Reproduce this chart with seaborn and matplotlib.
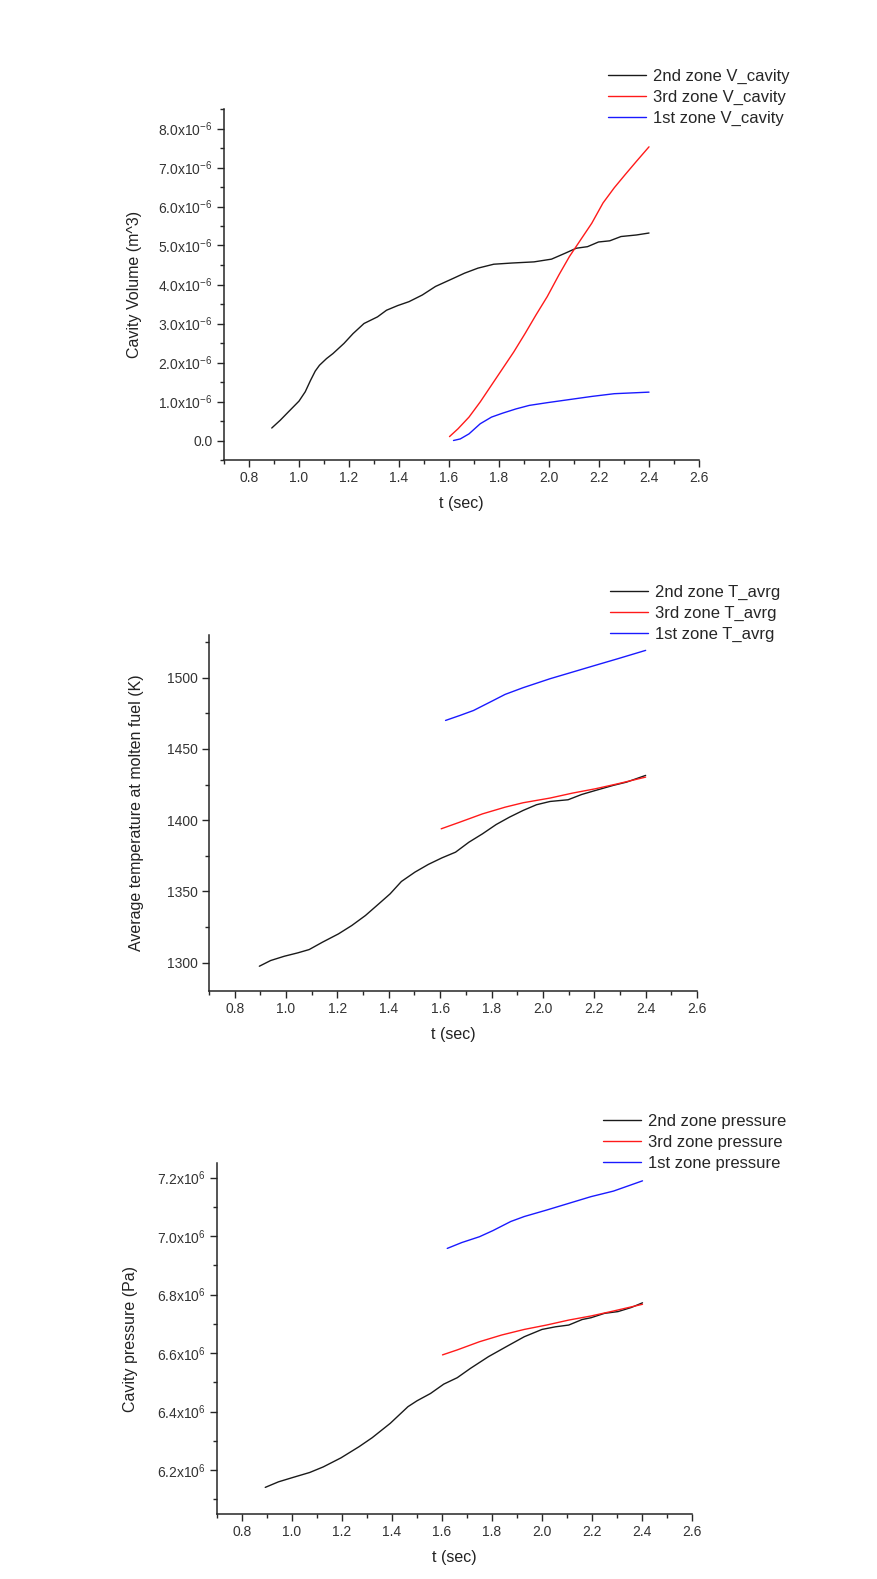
import pandas as pd
import numpy as np
import matplotlib
matplotlib.use('Agg')
import matplotlib.pyplot as plt
from matplotlib.ticker import MultipleLocator, FuncFormatter
import seaborn as sns

sns.set_style('ticks')
plt.rcParams['font.family'] = ['Liberation Sans', 'DejaVu Sans']
plt.rcParams['mathtext.fontset'] = 'custom'
plt.rcParams['mathtext.rm'] = 'Liberation Sans'
plt.rcParams['mathtext.default'] = 'regular'

# cavity volume (m^3)
t_v2 = [0.891, 0.925, 0.957, 1.0, 1.025, 1.046, 1.065, 1.082, 1.11, 1.136, 1.18, 1.216, 1.26, 1.314,
        1.35, 1.395, 1.44, 1.493, 1.546, 1.618, 1.662, 1.716, 1.779, 1.85, 1.94, 2.01, 2.064, 2.109,
        2.154, 2.198, 2.243, 2.288, 2.35, 2.4]
v2 = [0.32, 0.52, 0.73, 1.01, 1.25, 1.54, 1.78, 1.93, 2.10, 2.23, 2.49, 2.74, 3.0, 3.17,
      3.34, 3.46, 3.56, 3.73, 3.95, 4.16, 4.29, 4.42, 4.52, 4.55, 4.58, 4.65, 4.80, 4.93,
      4.97, 5.09, 5.12, 5.23, 5.27, 5.32]
t_v3 = [1.602, 1.636, 1.68, 1.725, 1.77, 1.814, 1.859, 1.904, 1.948, 1.993, 2.04, 2.082, 2.127,
        2.171, 2.216, 2.261, 2.305, 2.35, 2.4]
v3 = [0.10, 0.30, 0.60, 0.99, 1.42, 1.84, 2.27, 2.74, 3.22, 3.69, 4.25, 4.72, 5.15,
      5.57, 6.09, 6.48, 6.82, 7.16, 7.53]
t_v1 = [1.618, 1.645, 1.68, 1.725, 1.77, 1.814, 1.868, 1.921, 1.993, 2.082, 2.171, 2.261, 2.4]
v1 = [0.0, 0.04, 0.17, 0.43, 0.60, 0.70, 0.81, 0.90, 0.97, 1.05, 1.13, 1.20, 1.24]

# average temperature (K)
t_T2 = [0.896, 0.94, 0.993, 1.046, 1.09, 1.142, 1.204, 1.256, 1.309, 1.361, 1.405, 1.449, 1.502,
        1.554, 1.607, 1.66, 1.712, 1.765, 1.818, 1.87, 1.923, 1.975, 2.028, 2.098, 2.151, 2.204,
        2.274, 2.326, 2.4]
T2 = [1297.4, 1301.4, 1304.4, 1306.8, 1309.1, 1314.3, 1320.1, 1326.0, 1333.0, 1341.2, 1348.2,
      1356.9, 1363.5, 1368.9, 1373.5, 1377.5, 1384.5, 1390.4, 1396.9, 1402.1, 1406.8, 1410.8,
      1413.1, 1414.3, 1418.0, 1420.8, 1424.4, 1426.7, 1431.4]
t_T3 = [1.604, 1.677, 1.765, 1.853, 1.923, 2.028, 2.116, 2.204, 2.291, 2.4]
T3 = [1393.9, 1398.6, 1404.4, 1409.1, 1412.2, 1415.5, 1419.0, 1422.0, 1425.5, 1430.2]
t_T1 = [1.621, 1.677, 1.73, 1.8, 1.853, 1.923, 2.028, 2.116, 2.204, 2.291, 2.4]
T1 = [1470.0, 1473.5, 1477.0, 1483.4, 1488.3, 1493.0, 1499.3, 1504.0, 1508.7, 1513.3, 1519.2]

# cavity pressure (Pa, x1e6)
t_p2 = [0.893, 0.946, 1.0, 1.071, 1.125, 1.196, 1.268, 1.321, 1.393, 1.464, 1.5, 1.554, 1.607,
        1.661, 1.714, 1.786, 1.857, 1.929, 2.0, 2.054, 2.107, 2.161, 2.196, 2.25, 2.304, 2.357, 2.402]
p2 = [6.141, 6.160, 6.174, 6.192, 6.211, 6.242, 6.280, 6.311, 6.360, 6.417, 6.437, 6.462, 6.494,
      6.516, 6.548, 6.588, 6.622, 6.656, 6.681, 6.690, 6.696, 6.715, 6.721, 6.736, 6.742, 6.756, 6.772]
t_p3 = [1.602, 1.661, 1.75, 1.839, 1.929, 2.018, 2.107, 2.196, 2.286, 2.402]
p3 = [6.594, 6.611, 6.639, 6.662, 6.681, 6.696, 6.713, 6.727, 6.744, 6.767]
t_p1 = [1.621, 1.679, 1.75, 1.804, 1.875, 1.929, 2.018, 2.107, 2.196, 2.286, 2.402]
p1 = [6.958, 6.978, 6.998, 7.019, 7.050, 7.067, 7.089, 7.112, 7.135, 7.154, 7.189]

colors = ['#1a1a1a', '#ff1a1a', '#1a1aff']


def make_df(series, names, scale):
    parts = []
    for (t, y), name in zip(series, names):
        parts.append(pd.DataFrame({'t': t, 'y': np.array(y) * scale, 'zone': name}))
    return pd.concat(parts, ignore_index=True)


def draw(ax, df, names, ylabel, ylim, ymajor, yminor, fmt, legend_xy, ypad):
    sns.lineplot(data=df, x='t', y='y', hue='zone', hue_order=names,
                 palette=colors, estimator=None, sort=False, lw=1.0, ax=ax)
    ax.set_xlim(0.7, 2.6)
    ax.set_ylim(*ylim)
    ax.xaxis.set_major_locator(MultipleLocator(0.2))
    ax.xaxis.set_minor_locator(MultipleLocator(0.1))
    ax.xaxis.set_major_formatter(FuncFormatter(lambda v, p: f'{v:.1f}'))
    ax.yaxis.set_major_locator(MultipleLocator(ymajor))
    ax.yaxis.set_minor_locator(MultipleLocator(yminor))
    ax.yaxis.set_major_formatter(FuncFormatter(fmt))
    ax.tick_params(which='major', direction='out', length=5, width=1, labelsize=10,
                   labelcolor='#333333', pad=3)
    ax.tick_params(which='minor', direction='out', length=3, width=1)
    for s in ['left', 'bottom']:
        ax.spines[s].set_linewidth(1.1)
    sns.despine(ax=ax)
    ax.set_xlabel('t (sec)', fontsize=11.5, labelpad=8, color='#222222')
    ax.set_ylabel(ylabel, fontsize=11.5, labelpad=ypad, color='#222222')
    ax.legend(loc='upper left', bbox_to_anchor=legend_xy, bbox_transform=fig.transFigure,
              frameon=False, fontsize=12, borderpad=0, borderaxespad=0,
              handlelength=2.3, handletextpad=0.4, labelspacing=0.36)


def fmt_v(v, p):
    if abs(v) < 1e-12:
        return '0.0'
    return f'{v * 1e6:.1f}x10$^{{-6}}$'


def fmt_T(v, p):
    return f'{v:.0f}'


def fmt_p(v, p):
    return f'{v / 1e6:.1f}x10$^{{6}}$'


W, H = 878, 1579
fig = plt.figure(figsize=(W / 100, H / 100), dpi=100)


def axes_px(left, top, right, bottom):
    return fig.add_axes([left / W, 1 - bottom / H, (right - left) / W, (bottom - top) / H])


ax1 = axes_px(224, 109, 699, 460)
ax2 = axes_px(209, 635, 697, 991)
ax3 = axes_px(217, 1163, 692, 1514)

names_v = ['2nd zone V_cavity', '3rd zone V_cavity', '1st zone V_cavity']
names_T = ['2nd zone T_avrg', '3rd zone T_avrg', '1st zone T_avrg']
names_p = ['2nd zone pressure', '3rd zone pressure', '1st zone pressure']

df_v = make_df([(t_v2, v2), (t_v3, v3), (t_v1, v1)], names_v, 1e-6)
df_T = make_df([(t_T2, T2), (t_T3, T3), (t_T1, T1)], names_T, 1.0)
df_p = make_df([(t_p2, p2), (t_p3, p3), (t_p1, p1)], names_p, 1e6)

draw(ax1, df_v, names_v, 'Cavity Volume (m^3)', (-0.5e-6, 8.5e-6), 1e-6, 0.5e-6, fmt_v,
     (608 / W, 1 - 69 / H), 12)
draw(ax2, df_T, names_T, 'Average temperature at molten fuel (K)', (1280, 1530), 50, 25, fmt_T,
     (610 / W, 1 - 585 / H), 16.5)
draw(ax3, df_p, names_p, 'Cavity pressure (Pa)', (6.05e6, 7.25e6), 0.2e6, 0.1e6, fmt_p,
     (603 / W, 1 - 1114 / H), 13.5)

fig.savefig('out.png', dpi=100)
